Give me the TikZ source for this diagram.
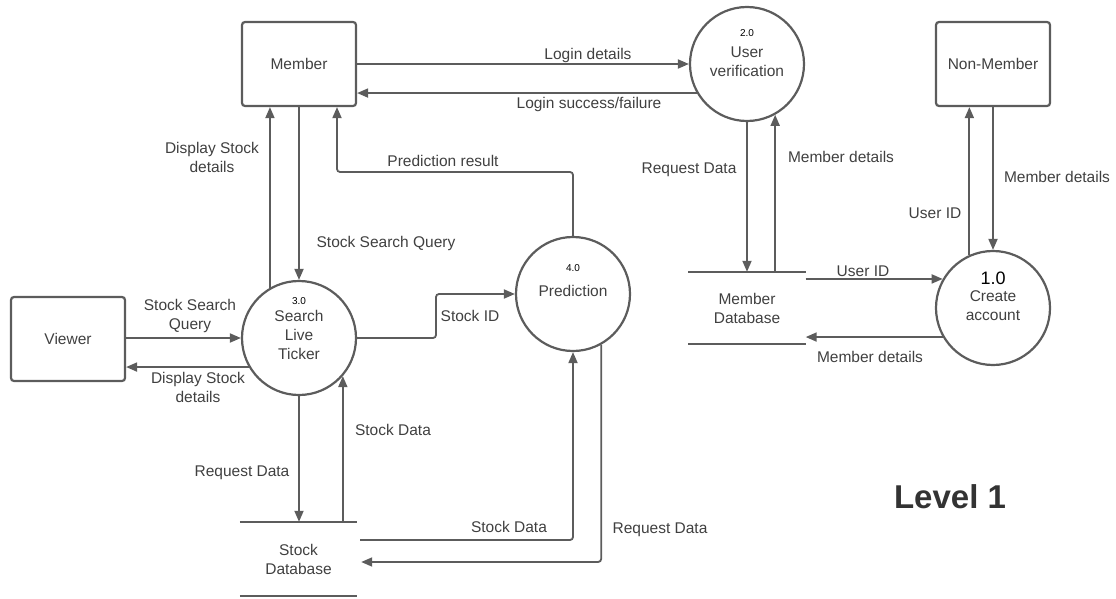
\documentclass[tikz,border=0pt]{standalone}
\usepackage{fontspec}
\setmainfont{Liberation Sans}
\usetikzlibrary{arrows.meta,calc}
\definecolor{ink}{HTML}{5C5C5C}
\definecolor{txt}{HTML}{404040}
\definecolor{head}{HTML}{333333}

\begin{document}
\begin{tikzpicture}[x=1pt,y=-1pt,
  lab/.style={text=txt,font=\fontsize{15.5}{19}\selectfont,align=center,inner sep=0pt},
  num/.style={text=black,font=\fontsize{10}{12}\selectfont,inner sep=0pt},
  entity/.style={draw=ink,line width=2.2pt,rounded corners=3pt,minimum width=114pt,
    minimum height=84pt,inner sep=0pt,text=txt,font=\fontsize{15.5}{19}\selectfont},
  proc/.style={draw=ink,line width=2.2pt,circle,minimum size=114pt,inner sep=0pt},
  storebox/.style={minimum width=117pt,minimum height=72pt,inner sep=0pt},
  storeline/.style={draw=ink,line width=2.2pt},
  flow/.style={draw=ink,line width=1.8pt,rounded corners=3pt,
    -{Triangle[length=11pt,width=9pt]}},
]
\useasboundingbox (0,0) rectangle (1116,599);

% external entities
\node[entity] (member) at (299,64) {Member};
\node[entity] (nonmember) at (993,64) {Non-Member};
\node[entity] (viewer) at (68,339) {Viewer};

% processes
\node[proc] (p2) at (747,64) {};
\node[proc] (p1) at (993,308) {};
\node[proc] (p3) at (299,338) {};
\node[proc] (p4) at (573,294) {};

\node[num] (p2n) at (747,33) {2.0};
\node[lab] (p2t) at (747,62) {User\\verification};
\node[text=black,font=\fontsize{18}{20}\selectfont,inner sep=0pt] (p1n) at (993,278) {1.0};
\node[lab] (p1t) at (993,306) {Create\\account};
\node[num] (p3n) at (299,301) {3.0};
\node[lab] (p3t) at (299,335) {Search\\Live\\Ticker};
\node[num] (p4n) at (573,268) {4.0};
\node[lab] (p4t) at (573,291) {Prediction};

% data stores
\node[storebox,lab] (mdb) at (747,308) {Member\\Database};
\draw[storeline] (mdb.north west) -- (mdb.north east);
\draw[storeline] (mdb.south west) -- (mdb.south east);
\node[storebox,lab,minimum height=74pt] (sdb) at (298.5,559) {Stock\\Database};
\draw[storeline] (sdb.north west) -- (sdb.north east);
\draw[storeline] (sdb.south west) -- (sdb.south east);

% member <-> user verification
\draw[flow] (member.east) -- (p2.west);
\draw[flow] (p2.210) -- (member.east |- p2.210);
\node[lab] (l1) at (588,55) {Login details};
\node[lab] (l2) at (589,104) {Login success/failure};

% member <-> search live ticker
\draw[flow] (p3.120) -- (p3.120 |- member.south);
\draw[flow] (member.south) -- (p3.north);
\node[lab] (l3) at (212,157) {Display Stock\\details};
\node[lab] (l4) at (386,243) {Stock Search Query};

% prediction result back to member
\coordinate (pr) at (337,172);
\draw[flow] (p4.north) |- (pr) -- (pr |- member.south);
\node[lab] (l5) at (443,161) {Prediction result};

% viewer <-> search live ticker
\draw[flow] (viewer.east |- p3.west) -- (p3.west);
\draw[flow] (p3.210) -- (viewer.east |- p3.210);
\node[lab] (l6) at (190,316) {Stock Search\\Query};
\node[lab] (l7) at (198,387) {Display Stock\\details};

% search live ticker -> prediction
\coordinate (sid) at (436,294);
\draw[flow] (p3.east) -| (sid) -- (p4.west);
\node[lab] (l8) at (470,316) {Stock ID};

% search live ticker <-> stock database
\draw[flow] (p3.south) -- (p3.south |- sdb.north);
\draw[flow] (p3.-41 |- sdb.north) -- (p3.-41);
\node[lab] (l9) at (393,430) {Stock Data};
\node[lab] (l10) at (242,473) {Request Data};

% prediction <-> stock database
\coordinate (sd) at ($(sdb.east)+(3,-19)$);
\coordinate (rq) at ($(sdb.east)+(4,3)$);
\draw[flow] (sd) -| (p4.south);
\draw[flow] (p4.-61) |- (rq);
\node[lab] (l11) at (509,527) {Stock Data};
\node[lab] (l12) at (660,530) {Request Data};

% user verification <-> member database
\draw[flow] (p2.south) -- (p2.south |- mdb.north);
\draw[flow] (p2.-61 |- mdb.north) -- (p2.-61);
\node[lab] (l13) at (689,170) {Request Data};
\node[lab] (l14) at (841,157) {Member details};

% member database <-> create account
\draw[flow] (mdb.east |- p1.150) -- (p1.150);
\draw[flow] (p1.210) -- (mdb.east |- p1.210);
\node[lab] (l15) at (863,271) {User ID};
\node[lab] (l16) at (870,357) {Member details};

% create account <-> non-member
\draw[flow] (p1.114) -- (p1.114 |- nonmember.south);
\draw[flow] (nonmember.south) -- (p1.north);
\node[lab] (l17) at (935,213) {User ID};
\node[lab] (l18) at (1057,177) {Member details};

\node[text=head,font=\fontsize{33}{40}\selectfont\bfseries,inner sep=0pt] (title) at (950,497) {Level 1};
\end{tikzpicture}
\end{document}
